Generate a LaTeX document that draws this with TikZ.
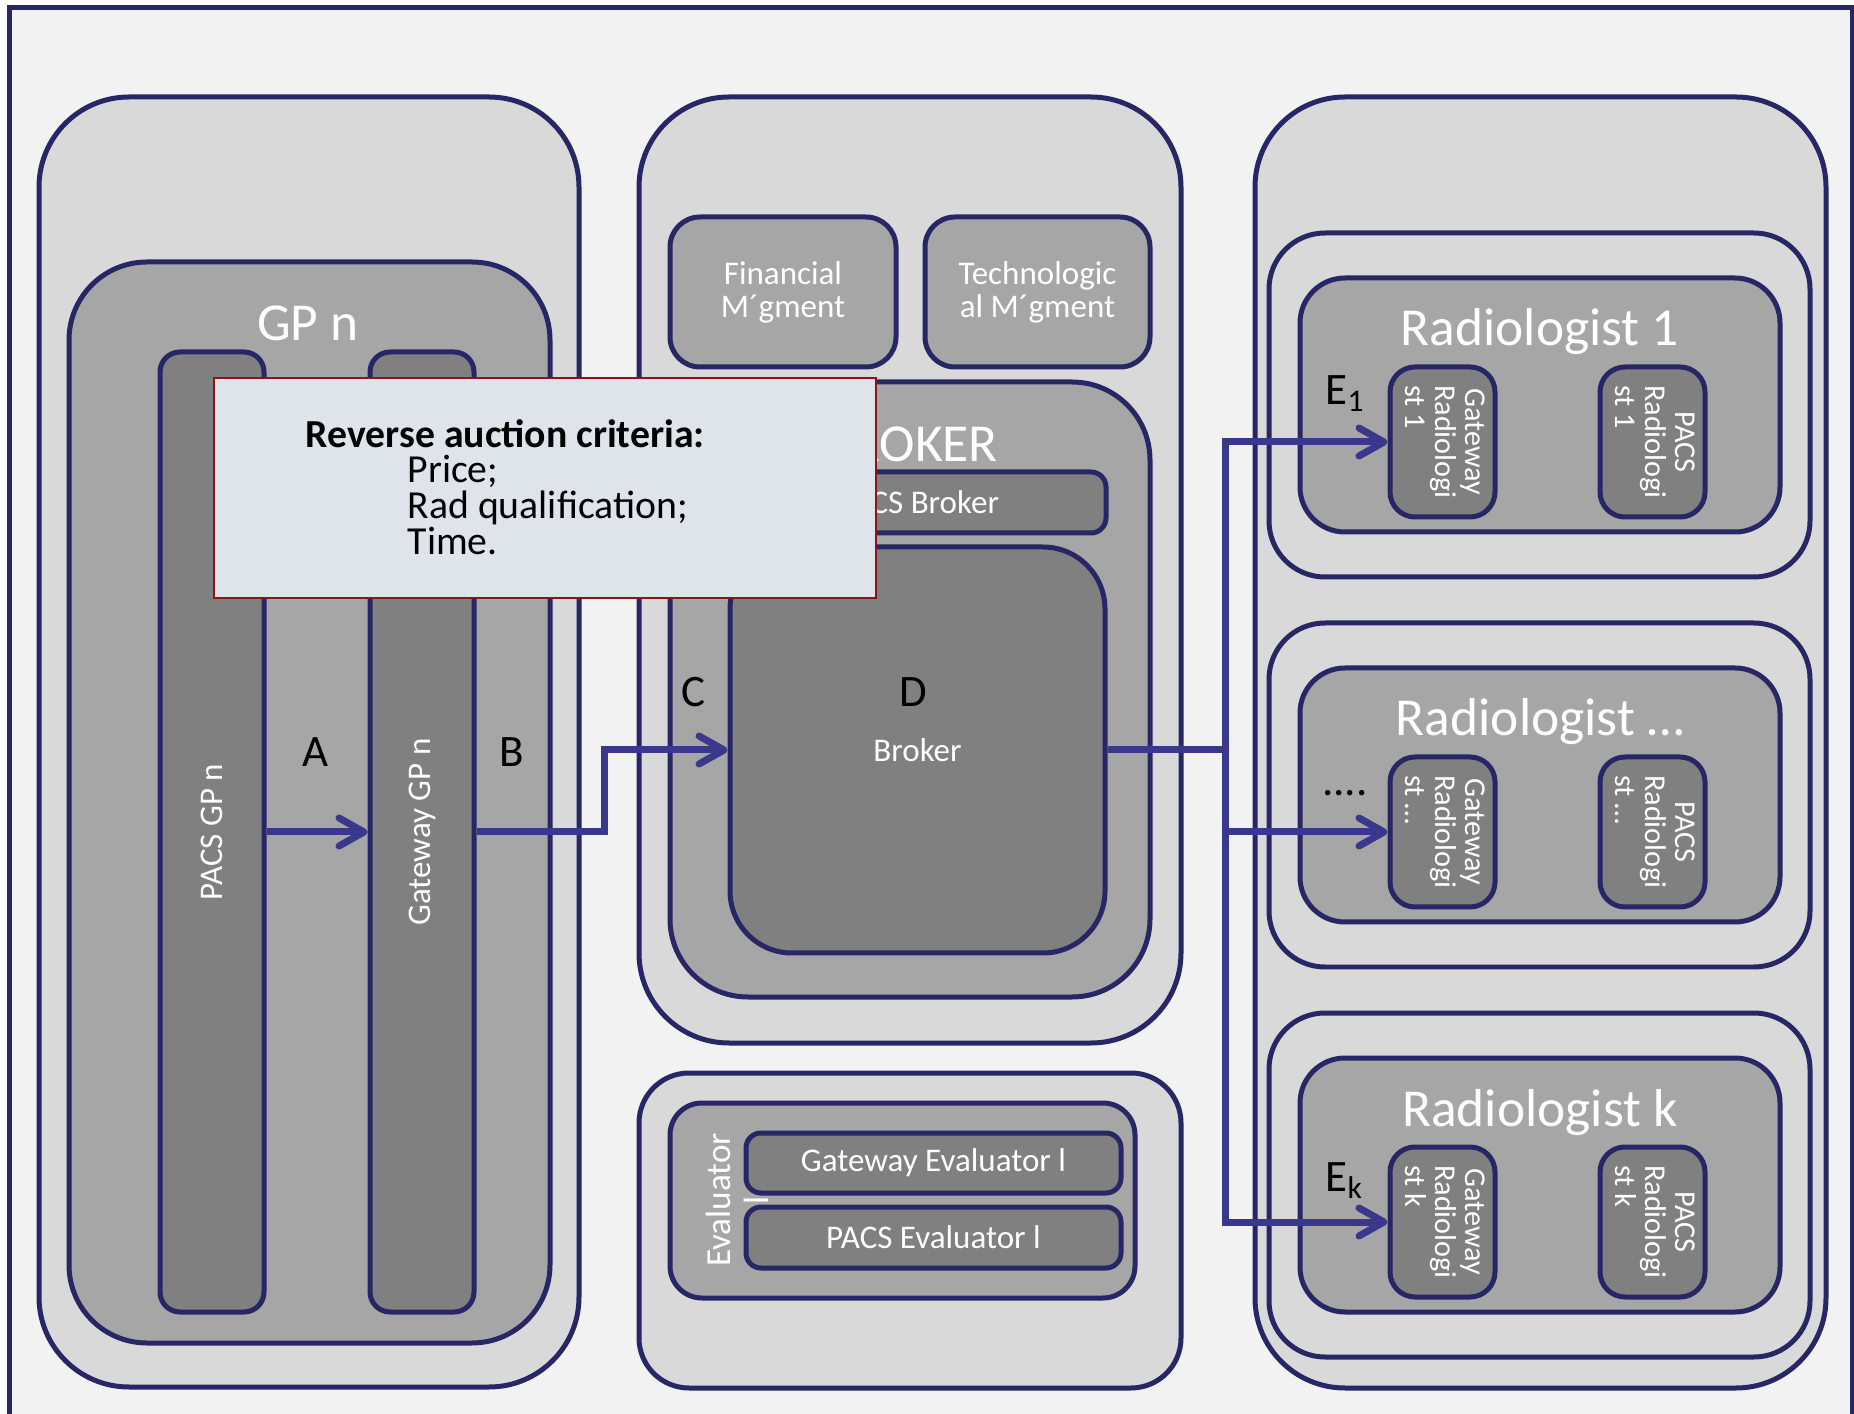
\documentclass[tikz,border=0pt]{standalone}
\usepackage{fontspec}
\setmainfont{Carlito}
\usetikzlibrary{fit,arrows.meta}

\definecolor{navy}{RGB}{40,38,100}
\definecolor{flowblue}{RGB}{58,56,140}
\definecolor{paper}{RGB}{242,242,242}
\definecolor{lgray}{RGB}{217,217,217}
\definecolor{mgray}{RGB}{166,166,166}
\definecolor{dgray}{RGB}{128,128,128}
\definecolor{critfill}{RGB}{223,227,234}
\definecolor{critline}{RGB}{140,20,20}

\tikzset{
  box/.style={draw=navy, line width=0.5mm, rounded corners=#1, inner sep=0pt},
  box/.default=3mm,
  wtext/.style={text=white, font=\fontsize{9.4}{9.4}\selectfont, align=center, inner sep=0pt},
  radtext/.style={text=white, font=\fontsize{8.6}{8.5}\selectfont, align=center, inner sep=0pt},
  title/.style={text=white, font=\fontsize{15.2}{18}\selectfont, inner sep=0pt},
  lbl/.style={text=black, font=\fontsize{12.8}{15}\selectfont, inner sep=0pt},
  crittxt/.style={text=black, font=\fontsize{11.3}{13}\selectfont, inner sep=0pt},
  flowline/.style={draw=flowblue, line width=0.7mm},
  flow/.style={flowline, -{Straight Barb[length=2.5mm,width=2.8mm,round]}},
}

\begin{document}
\begin{tikzpicture}[x=0.1mm, y=-0.1mm]
\useasboundingbox (0,0) rectangle (1854,1414);
\clip (0,0) rectangle (1854,1414);
\fill[white] (0,0) rectangle (1854,1414);
\draw[draw=navy, line width=0.5mm, fill=paper] (9,8) rectangle (1852,1440);

% GP side
\node[box=9mm, fill=lgray, fit={(39,97) (579,1387)}] (gpouter) {};
\node[box=7.8mm, fill=mgray, fit={(69,262) (550,1343)}] (gpinner) {};
\node[title, anchor=base] (gptitle) at (308,341) {GP n};
\node[box=2mm, fill=dgray, fit={(160,352) (264,1312)}] (pacsgp) {};
\node[box=2mm, fill=dgray, fit={(370,352) (474,1312)}] (gwgp) {};
\node[wtext, rotate=90] (pacsgptxt) at (pacsgp) {PACS GP n};
\node[wtext, rotate=90] (gwgptxt) at (gwgp) {Gateway GP n};

% broker column
\node[box=9mm, fill=lgray, fit={(639,97) (1181,1043)}] (midouter) {};
\node[box=3mm, fill=mgray, fit={(670,217) (896,367)}] (finmg) {};
\node[box=3mm, fill=mgray, fit={(925,217) (1150,367)}] (techmg) {};
\node[wtext] (finmgtxt) at (finmg) {Financial\\M´gment};
\node[wtext] (techmgtxt) at (techmg) {Technologic\\al M´gment};
\node[box=7.8mm, fill=mgray, fit={(670,382) (1150,997)}] (brokergrp) {};
\node[title, anchor=base] (brokertitle) at (910,462) {BROKER};
\node[box=1.5mm, fill=dgray, fit={(730,472) (1106,533)}] (pacsbroker) {};
\node[wtext] (pacsbrokertxt) at (pacsbroker) {PACS Broker};
\node[box=6.2mm, fill=dgray, fit={(730,547) (1105,953)}] (broker) {};
\node[wtext] (brokertxt) at (broker) {Broker};
\node[lbl] (lblc) at (693,692) {C};
\node[lbl] (lbld) at (913,692) {D};

% evaluator
\node[box=5mm, fill=lgray, fit={(639,1073) (1181,1388)}] (evalouter) {};
\node[box=3.2mm, fill=mgray, fit={(670,1103) (1135,1298)}] (evalinner) {};
\node[box=1.5mm, fill=dgray, fit={(746,1133) (1121,1193)}] (gweval) {};
\node[box=1.5mm, fill=dgray, fit={(746,1207) (1121,1268)}] (pacseval) {};
\node[wtext] (gwevaltxt) at (gweval) {Gateway Evaluator l};
\node[wtext] (pacsevaltxt) at (pacseval) {PACS Evaluator l};
\node[wtext, rotate=90, font=\fontsize{10}{10.8}\selectfont] (evaltxt) at (737,1200) {Evaluator\\l};

% radiologists
\node[box=9mm, fill=lgray, fit={(1255,97) (1826,1388)}] (radouter) {};
\foreach \dy/\rn/\rs in {0/1/1, 390/2/…, 780/k/k}{
  \node[box=5.6mm, fill=lgray, fit={(1269,233+\dy) (1810,577+\dy)}] (radgrp\rn) {};
  \node[box=4.5mm, fill=mgray, fit={(1300,278+\dy) (1780,532+\dy)}] (rad\rn) {};
  \node[title, anchor=base] (radtitle\rn) at (1540,346+\dy) {Radiologist \rs};
  \node[box=2.5mm, fill=dgray, fit={(1390,367+\dy) (1495,517+\dy)}] (gwrad\rn) {};
  \node[box=2.5mm, fill=dgray, fit={(1600,367+\dy) (1705,517+\dy)}] (pacsrad\rn) {};
  \node[radtext, rotate=-90] (gwradtxt\rn) at (gwrad\rn) {Gateway\\Radiologi\\\rlap{st \rs}\phantom{Radiologi}};
  \node[radtext, rotate=-90] (pacsradtxt\rn) at (pacsrad\rn) {PACS\\Radiologi\\\rlap{st \rs}\phantom{Radiologi}};
}
\node[lbl, anchor=base west] (e1) at (1325,405) {E\textsubscript{1}};
\node[lbl, anchor=base] (edots) at (1345,796) {....};
\node[lbl, anchor=base west] (ek) at (1325,1191) {E\textsubscript{k}};

% flows
\draw[flow] (pacsgp) -- (gwgp);
\node[lbl] (lbla) at (316,752) {A};
\node[lbl] (lblb) at (512,752) {B};
\draw[flow] (gwgp.east) -- ++(128,0) |- (broker.west);
\coordinate (split) at (1225,750);
\draw[flowline] (broker.east) -- (split);
\draw[flowline, line cap=rect] (split |- gwrad1) -- (split |- gwradk);
\foreach \rn in {1,2,k}
  \draw[flow] (split |- gwrad\rn) -- (gwrad\rn.west);

% criteria
\node[draw=critline, line width=0.25mm, fill=critfill, inner sep=0pt, fit={(214,378) (876,598)}] (crit) {};
\node[crittxt, anchor=base west] (crithead) at (305,448) {\textbf{Reverse auction criteria:}};
\foreach \ln [count=\i] in {Price;, Rad qualification;, Time.}
  \node[crittxt, anchor=base west] (crit\i) at (407,447+36*\i) {\ln};
\end{tikzpicture}
\end{document}
